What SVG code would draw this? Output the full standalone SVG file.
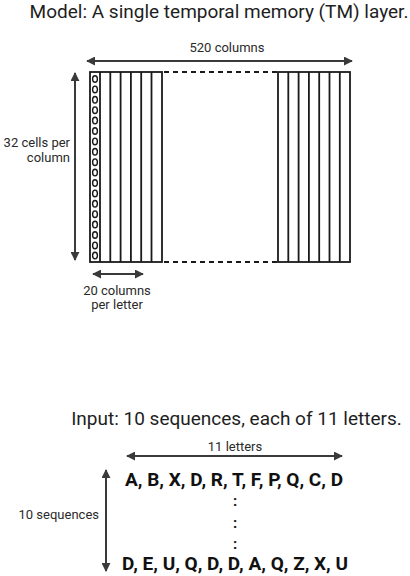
<svg xmlns="http://www.w3.org/2000/svg" width="410" height="576" viewBox="0 0 410 576">
<style>
text{font-family:Roboto,"Liberation Sans",sans-serif;fill:#1e1e1e}
.title{font-size:19px}
.lbl{font-size:13px;fill:#2a2a2a}
.seq{font-size:19px;font-weight:bold;fill:#111}
.dots{font-size:15px;font-weight:bold;fill:#111}
.grid{fill:none;stroke:#1a1a1a;stroke-width:1.8}
.dash{stroke:#1a1a1a;stroke-width:1.8;stroke-dasharray:5 4}
.cell{fill:none;stroke:#1a1a1a;stroke-width:1.4}
.arr{stroke:#3a3a3a;stroke-width:2;marker-start:url(#ah);marker-end:url(#ah)}
</style>
<defs>
<marker id="ah" viewBox="0 0 10 10" refX="9" refY="5" markerWidth="9" markerHeight="9" markerUnits="userSpaceOnUse" orient="auto-start-reverse">
<path d="M0,0 L10,5 L0,10 z" fill="#3a3a3a"/>
</marker>
</defs>

<g id="title">
<text class="title" x="219" y="18" text-anchor="middle">Model: A single temporal memory (TM) layer.</text>
</g>

<g id="tm-layer">
<g id="left-block">
<rect class="grid" x="90" y="72" width="72" height="190"/>
<path class="grid" d="M100,72V262M110.3,72V262M120.6,72V262M130.9,72V262M141.2,72V262M151.5,72V262"/>
</g>
<g id="cells">
<ellipse class="cell" cx="95" cy="79" rx="2.4" ry="3.3"/>
<ellipse class="cell" cx="95" cy="89.4" rx="2.4" ry="3.3"/>
<ellipse class="cell" cx="95" cy="99.8" rx="2.4" ry="3.3"/>
<ellipse class="cell" cx="95" cy="110.2" rx="2.4" ry="3.3"/>
<ellipse class="cell" cx="95" cy="120.6" rx="2.4" ry="3.3"/>
<ellipse class="cell" cx="95" cy="131" rx="2.4" ry="3.3"/>
<ellipse class="cell" cx="95" cy="141.4" rx="2.4" ry="3.3"/>
<ellipse class="cell" cx="95" cy="151.8" rx="2.4" ry="3.3"/>
<ellipse class="cell" cx="95" cy="162.2" rx="2.4" ry="3.3"/>
<ellipse class="cell" cx="95" cy="172.6" rx="2.4" ry="3.3"/>
<ellipse class="cell" cx="95" cy="183" rx="2.4" ry="3.3"/>
<ellipse class="cell" cx="95" cy="193.4" rx="2.4" ry="3.3"/>
<ellipse class="cell" cx="95" cy="203.8" rx="2.4" ry="3.3"/>
<ellipse class="cell" cx="95" cy="214.2" rx="2.4" ry="3.3"/>
<ellipse class="cell" cx="95" cy="224.6" rx="2.4" ry="3.3"/>
<ellipse class="cell" cx="95" cy="235" rx="2.4" ry="3.3"/>
<ellipse class="cell" cx="95" cy="245.4" rx="2.4" ry="3.3"/>
<ellipse class="cell" cx="95" cy="255.6" rx="2.4" ry="3.3"/>
</g>
<g id="gap">
<line class="dash" x1="164" y1="72" x2="278" y2="72"/>
<line class="dash" x1="164" y1="262" x2="278" y2="262"/>
</g>
<g id="right-block">
<rect class="grid" x="278" y="72" width="72" height="190"/>
<path class="grid" d="M288.3,72V262M298.6,72V262M308.9,72V262M319.2,72V262M329.5,72V262M339.8,72V262"/>
</g>
</g>

<g id="connectors">
<line class="arr" x1="87" y1="61" x2="352" y2="61"/>
<line class="arr" x1="75" y1="73" x2="75" y2="260"/>
<line class="arr" x1="93" y1="274" x2="143" y2="274"/>
<line class="arr" x1="127" y1="456" x2="342" y2="456"/>
<line class="arr" x1="106" y1="470" x2="106" y2="571"/>
</g>

<g id="labels">
<text class="lbl" x="227" y="52" text-anchor="middle">520 columns</text>
<text class="lbl" x="70" y="147" text-anchor="end">32 cells per</text>
<text class="lbl" x="70" y="161.5" text-anchor="end">column</text>
<text class="lbl" x="117" y="295" text-anchor="middle">20 columns</text>
<text class="lbl" x="117" y="308.5" text-anchor="middle">per letter</text>
</g>

<g id="input">
<text class="title" x="236.5" y="425" text-anchor="middle">Input: 10 sequences, each of 11 letters.</text>
<text class="lbl" x="235" y="451" text-anchor="middle">11 letters</text>
<text class="lbl" x="99" y="519" text-anchor="end">10 sequences</text>
<text class="seq" x="234" y="486" text-anchor="middle">A, B, X, D, R, T, F, P, Q, C, D</text>
<text class="dots" x="235" y="506" text-anchor="middle">:</text>
<text class="dots" x="235" y="527.5" text-anchor="middle">:</text>
<text class="dots" x="235" y="549" text-anchor="middle">:</text>
<text class="seq" x="235" y="570" text-anchor="middle">D, E, U, Q, D, D, A, Q, Z, X, U</text>
</g>
</svg>
